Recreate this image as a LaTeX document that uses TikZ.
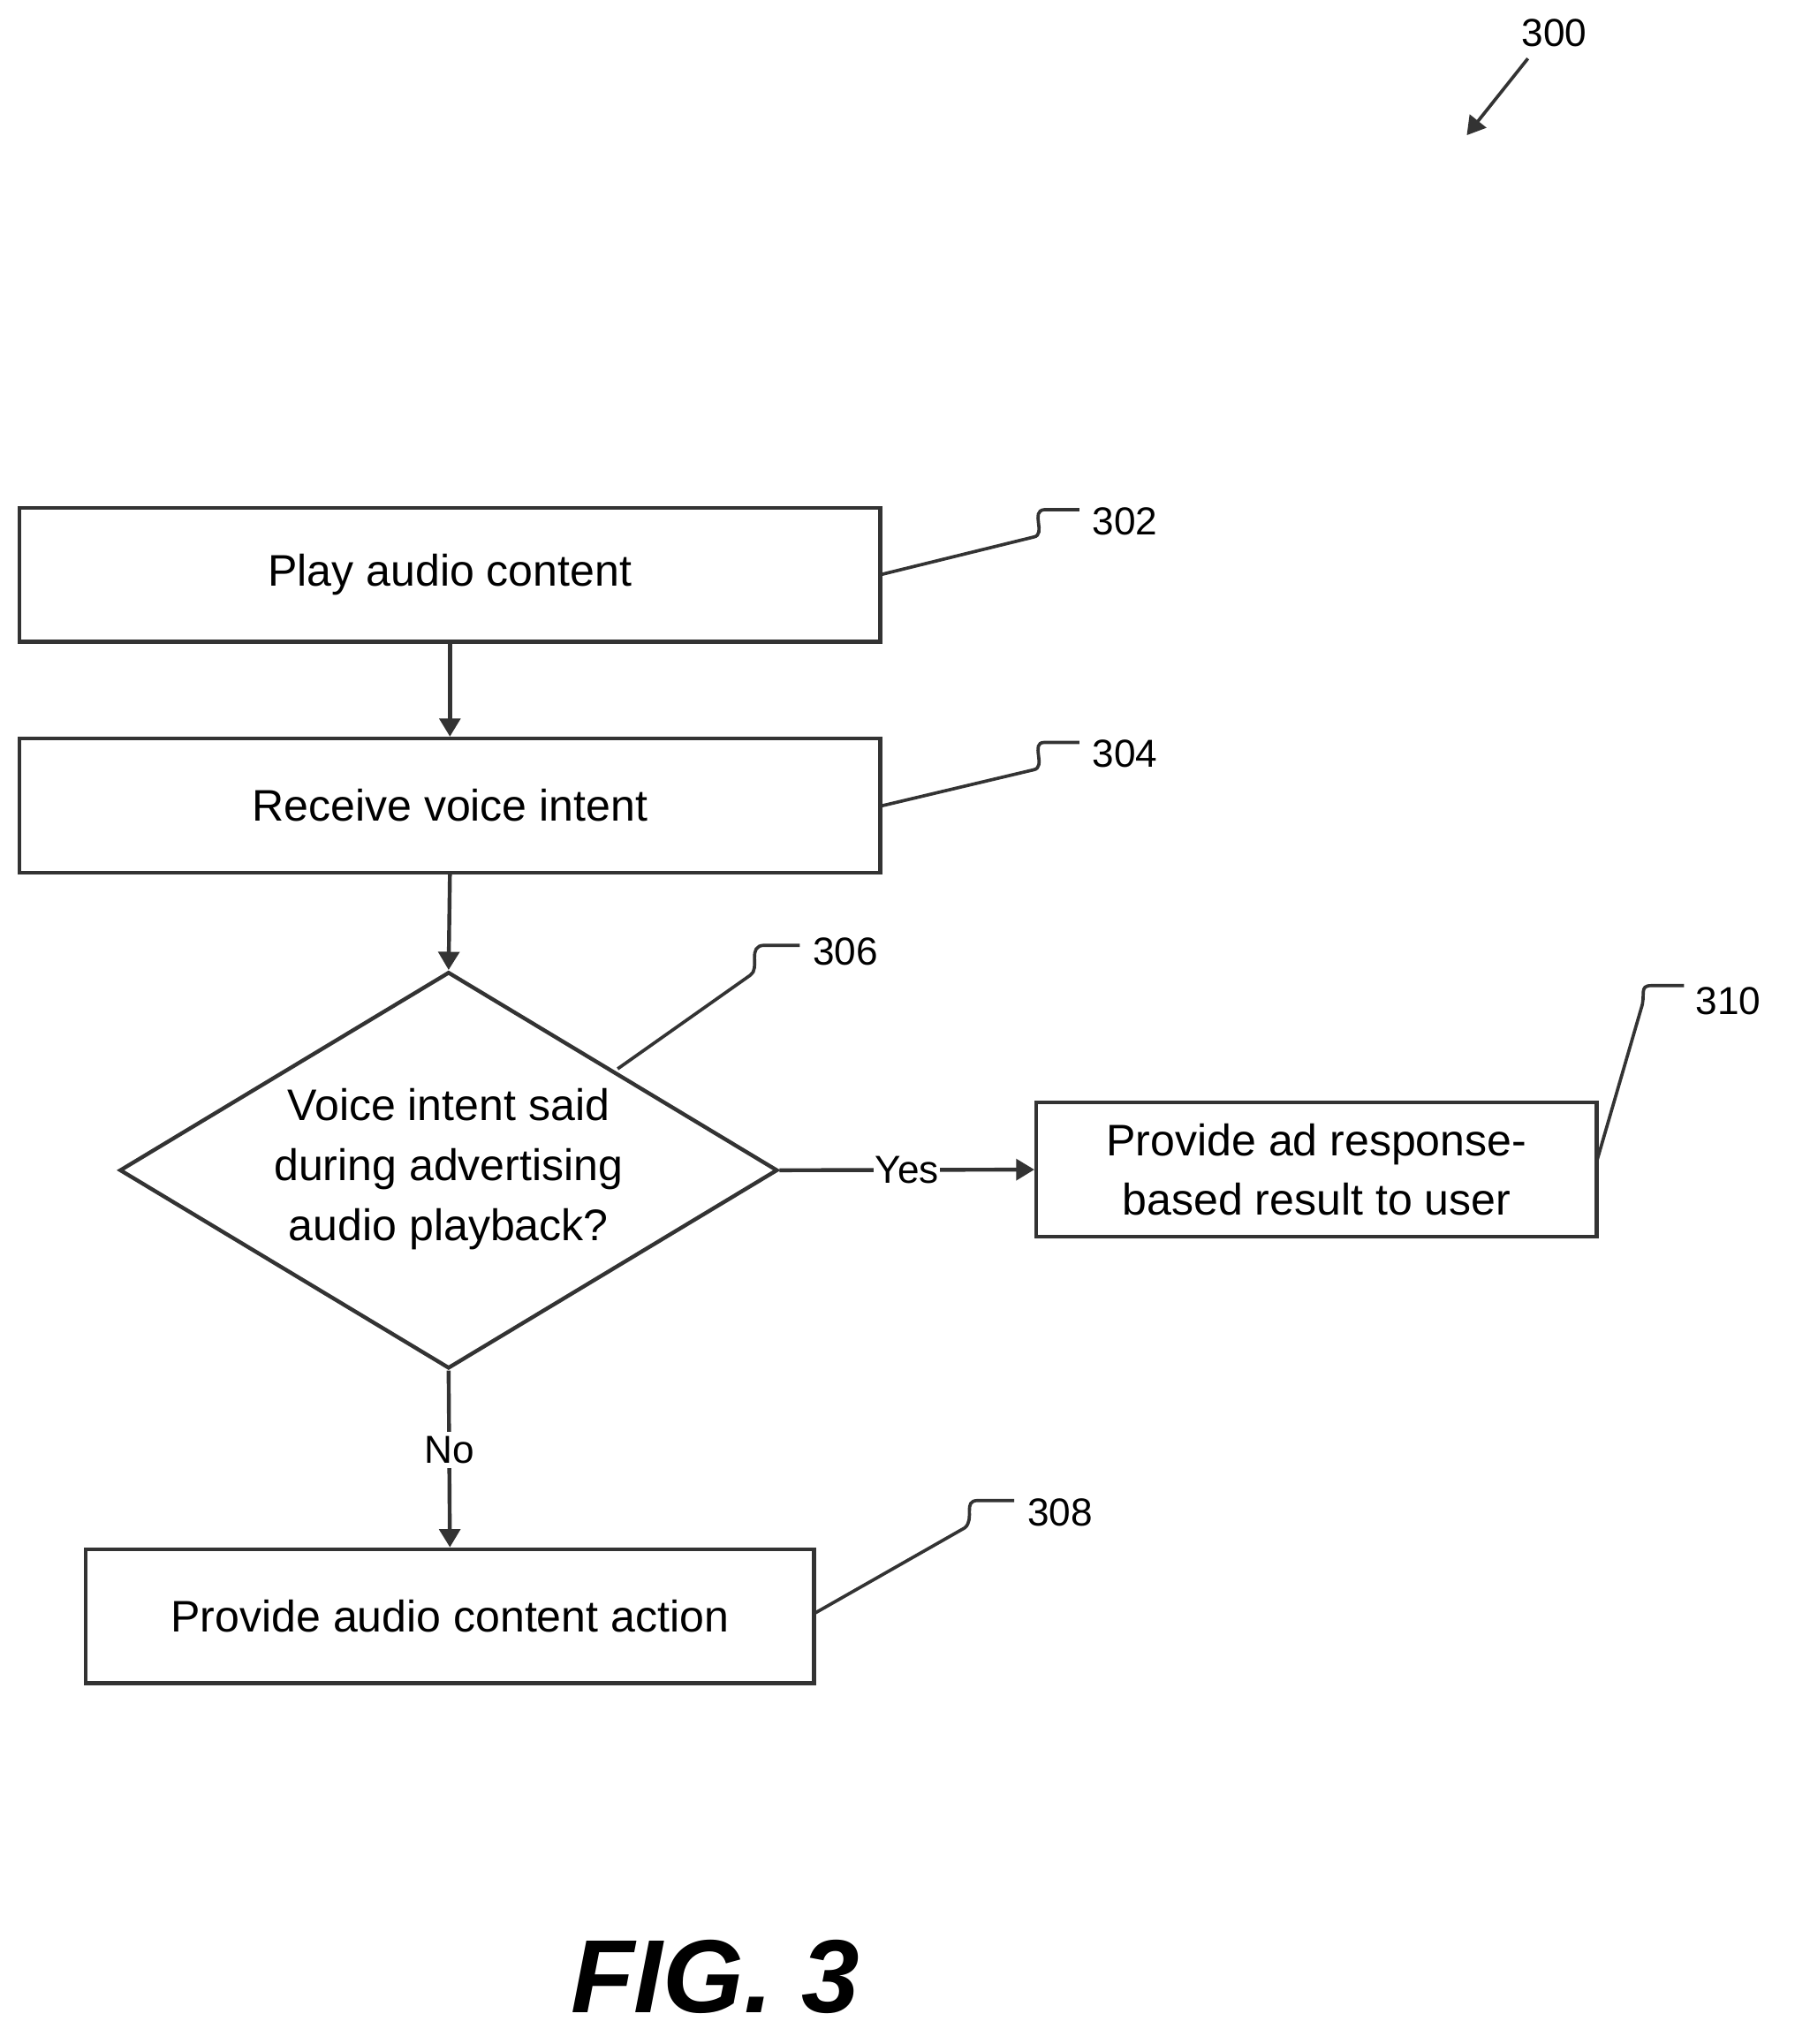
\documentclass[tikz,border=0pt]{standalone}
\usepackage{fontspec}
\setmainfont{Liberation Sans}
\usetikzlibrary{shapes.geometric,arrows.meta}
\begin{document}
\begin{tikzpicture}[x=1pt,y=-1pt,
 box/.style={draw=black!80,line width=3pt,minimum height=103pt,font=\fontsize{34}{40}\selectfont,align=center,inner sep=0},
 lbl/.style={font=\fontsize{30}{34}\selectfont,anchor=west,inner sep=0},
 ld/.style={draw=black!80,line width=2.5pt},
 ar/.style={draw=black!80,line width=3pt,-{Triangle[length=14pt,width=16pt]}}]
\useasboundingbox (0,0) rectangle (1380,1572);
\node[box,minimum width=662pt] (b302) at (346,442) {Play audio content};
\node[box,minimum width=662pt] (b304) at (346,619.5) {Receive voice intent};
\node[draw=black!80,line width=3pt,diamond,minimum width=506pt,minimum height=305pt,inner sep=0,aspect=1.66] (d306) at (345,900) {};
\node[font=\fontsize{34}{46}\selectfont,align=center] at (345,899) {Voice intent said\\during advertising\\audio playback?};
\node[box,minimum width=431pt,font=\fontsize{34}{46}\selectfont] (b310) at (1012.5,899.5) {Provide ad response-\\based result to user};
\node[box,minimum width=560pt] (b308) at (346,1243) {Provide audio content action};
\draw[ar] (b302.south) -- (b304.north);
\draw[ar] (b304.south) -- (d306.north);
\draw[ar] (d306.east) -- node[fill=white,font=\fontsize{30}{34}\selectfont,inner sep=1pt]{Yes} (b310.west);
\draw[ar] (d306.south) -- node[fill=white,font=\fontsize{30}{34}\selectfont,pos=0.45]{No} (b308.north);
% leaders
\coordinate (e302) at (677,442); \coordinate (e304) at (677,620);
\coordinate (e306) at (475,822); \coordinate (e310) at (1228,893); \coordinate (e308) at (626,1241);
\draw[ld] (e302) -- (795,413) .. controls (805,411) and (792,393) .. (803,392) -- (830,392);
\node[lbl] (t302) at (840,401) {302};
\draw[ld] (e304) -- (795,592) .. controls (805,590) and (792,571) .. (803,571) -- (830,571);
\node[lbl] (t304) at (840,580) {304};
\draw[ld] (e306) -- (577,750) .. controls (585,745) and (574,727) .. (588,727) -- (615,727);
\node[lbl] (t306) at (625,732) {306};
\draw[ld] (e310) -- (1262,776) .. controls (1266,765) and (1260,758) .. (1270,758) -- (1295,758);
\node[lbl] (t310) at (1304,770) {310};
\draw[ld] (e308) -- (742,1175) .. controls (750,1168) and (740,1154) .. (752,1154) -- (780,1154);
\node[lbl] (t308) at (790,1163) {308};
\node[lbl] (t300) at (1170,25) {300};
\coordinate (a300) at (1175,45);
\draw[ar,line width=2.5pt] (a300) -- (1128,104);
\node[font=\fontsize{80}{90}\selectfont\bfseries\itshape] (fig) at (550,1520) {FIG. 3};
\end{tikzpicture}
\end{document}
